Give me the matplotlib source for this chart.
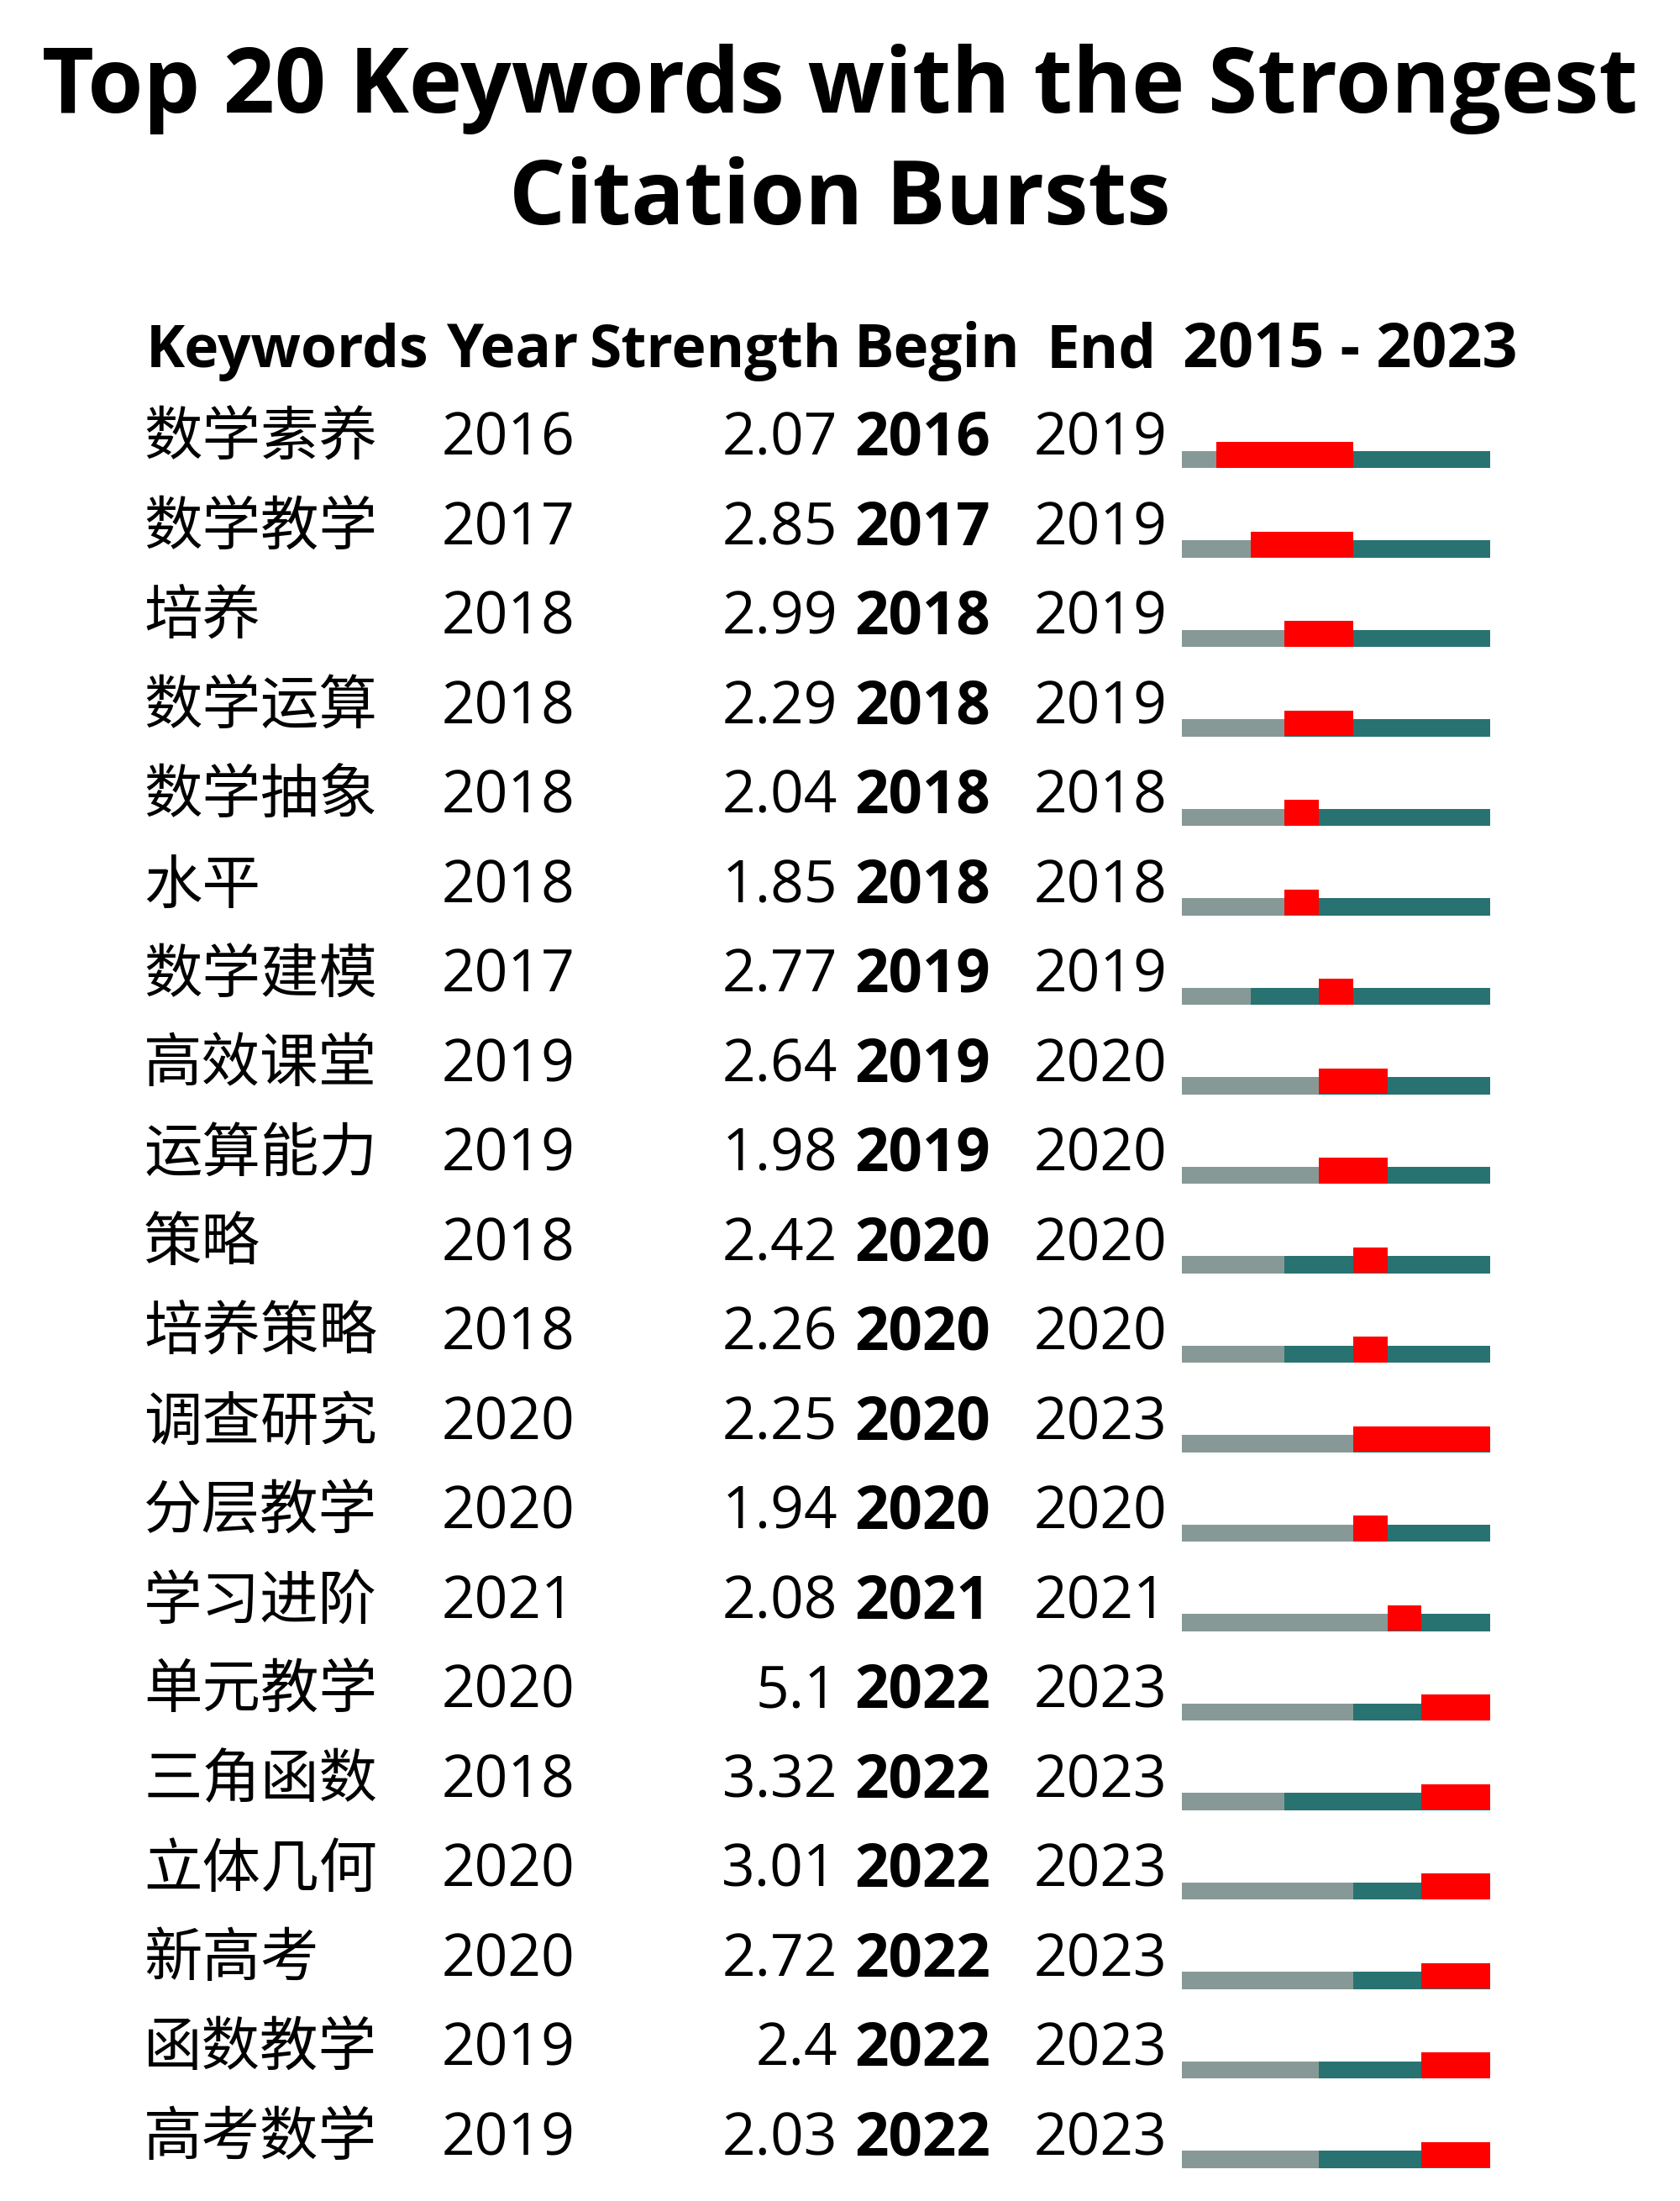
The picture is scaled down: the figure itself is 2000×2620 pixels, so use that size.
import matplotlib.pyplot as plt
import matplotlib.transforms as mtransforms

plt.rcParams['font.family'] = ['Open Sans', 'Noto Sans CJK SC', 'DejaVu Sans']

# ====================== 数据 ======================
keywords = ["数学素养", "数学教学", "培养", "数学运算", "数学抽象", "水平", "数学建模",
            "高效课堂", "运算能力", "策略", "培养策略", "调查研究", "分层教学", "学习进阶",
            "单元教学", "三角函数", "立体几何", "新高考", "函数教学", "高考数学"]
first_year = [2016, 2017, 2018, 2018, 2018, 2018, 2017, 2019, 2019, 2018,
              2018, 2020, 2020, 2021, 2020, 2018, 2020, 2020, 2019, 2019]
strength = [2.07, 2.85, 2.99, 2.29, 2.04, 1.85, 2.77, 2.64, 1.98, 2.42,
            2.26, 2.25, 1.94, 2.08, 5.1, 3.32, 3.01, 2.72, 2.4, 2.03]
begin = [2016, 2017, 2018, 2018, 2018, 2018, 2019, 2019, 2019, 2020,
         2020, 2020, 2020, 2021, 2022, 2022, 2022, 2022, 2022, 2022]
end = [2019, 2019, 2019, 2019, 2018, 2018, 2019, 2020, 2020, 2020,
       2020, 2023, 2020, 2021, 2023, 2023, 2023, 2023, 2023, 2023]
start_year, end_year = 2015, 2023

# ====================== 画布 ======================
W, H = 2000, 2620
fig = plt.figure(figsize=(20, 26.2), dpi=100)
fig.patch.set_facecolor("white")

row0, step = 516, 106.5  # 第一行文字中心 / 行距（像素）
ax = fig.add_axes([1407 / W, 0, 367 / W, 1])
ax.set_xlim(start_year, end_year + 1)
ax.set_ylim((H - row0) / step, -row0 / step)
ax.axis("off")

GRAY, TEAL, RED = "#879996", "#287371", "#ff0000"
n = len(keywords)
rows = list(range(n))

# 时间轴条
thin_c, thin_h = 0.291, 0.188
red_c, red_h = 0.2394, 0.291
ax.barh([r + thin_c for r in rows], [fy - start_year for fy in first_year],
        left=start_year, height=thin_h, color=GRAY, linewidth=0)
ax.barh([r + thin_c for r in rows], [end_year + 1 - fy for fy in first_year],
        left=first_year, height=thin_h, color=TEAL, linewidth=0)
ax.barh([r + red_c for r in rows], [e + 1 - b for b, e in zip(begin, end)],
        left=begin, height=red_h, color=RED, linewidth=0)

# 表格文字
tr = mtransforms.blended_transform_factory(fig.transFigure, ax.transData)
fs = 50
base = 0.244
for i in rows:
    y = i + base
    ax.text(171 / W, y, keywords[i], transform=tr, fontsize=fs, va="baseline", ha="left")
    ax.text(526 / W, y, str(first_year[i]), transform=tr, fontsize=fs, va="baseline", ha="left")
    ax.text(997 / W, y, f"{strength[i]:g}", transform=tr, fontsize=fs, va="baseline", ha="right")
    ax.text(1017 / W, y, str(begin[i]), transform=tr, fontsize=51, va="baseline", ha="left",
            fontweight="bold")
    ax.text(1231 / W, y, str(end[i]), transform=tr, fontsize=fs, va="baseline", ha="left")

# 表头
hy = 1 - 437 / H
for x, s, hfs in [(174, "Keywords", 50), (531, "Year", 51), (702, "Strength", 50),
                  (1017, "Begin", 51), (1246, "End", 51),
                  (1408, f"{start_year} - {end_year}", 53)]:
    fig.text(x / W, hy, s, fontsize=hfs, fontweight="bold", va="baseline", ha="left")

# 标题
fig.text(0.5, 1 - 134 / H, "Top 20 Keywords with the Strongest", fontsize=77,
         fontweight="bold", ha="center", va="baseline")
fig.text(0.5, 1 - 267 / H, "Citation Bursts", fontsize=76,
         fontweight="bold", ha="center", va="baseline")

fig.savefig("out.png", dpi=100, facecolor="white")
